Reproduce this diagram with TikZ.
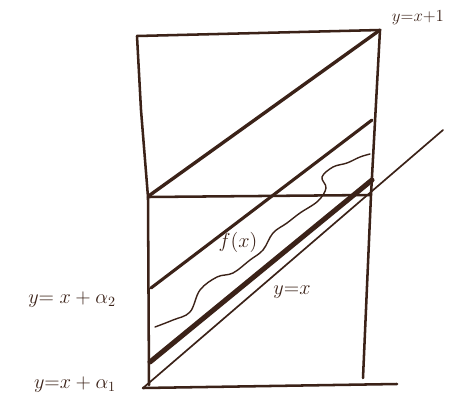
\documentclass[tikz,border=0pt]{standalone}
\usetikzlibrary{calc}
\definecolor{inkbrown}{HTML}{3B2218}
\begin{document}
\begin{tikzpicture}[x=0.025cm, y=-0.025cm, line cap=round, line join=round,
    ink/.style={draw=inkbrown, line width=1.8pt},
    thinink/.style={draw=inkbrown, line width=1.2pt},
    boldink/.style={draw=inkbrown, line width=3.6pt},
    label/.style={text=inkbrown, font=\Large}]
			\useasboundingbox (0,0) rectangle (462,410);
			
			% Corners of the box
			\coordinate (topL) at (137,36);
			\coordinate (topR) at (380,30);
			\coordinate (midL) at (148,197);
			\coordinate (midR) at (371,195);
			\coordinate (botL) at (143,388);
			\coordinate (botR) at (397,384);
			
			% Draw Box
			\draw[ink] (topL) -- (topR) -- (371,195) -- (363,378);
			\draw[ink] (topL) -- (141,110) -- (midL) -- (149,385);
			\draw[ink] (midL) -- (midR);
			\draw[ink] (botL) -- (botR);
			
			% Diagonal y = x+1
			\draw[ink, line width=2.4pt] (150,195) -- (topR);
			
			% Line y = x + alpha_2
			\draw[ink, line width=2.2pt] (151,288) -- (372,120);
			
			% Wavy curve f(x)
			\draw[thinink, line width=1pt] plot[smooth, tension=0.6] coordinates {(155,327) (173,320) (190,312) (200,290) (217,277) (233,273) (250,260) (263,250) (273,233) (287,223) (300,213) (318,201) (326,188) (322,177) (333,167) (347,163) (360,157) (370,154)};
			
			% Line y = x + alpha_1
			\draw[boldink] (150,362) -- (372,180);
			
			% Line y = x
			\draw[thinink] (botL) -- (443,130);
			
			% Labels
			\node[label, font=\large] (lblTop) at (418,18) {$y{=}x{+}1$};
			\node[label] (lblF) at (238,242) {$f(x)$};
			\node[label] (lblDiag) at (292,292) {$y{=}x$};
			\node[label] (lblAlphaTwo) at (72,300) {$y{=}\;x+\alpha_2$};
			\node[label] (lblAlphaOne) at (75,385) {$y{=}x+\alpha_1$};
		\end{tikzpicture}
\end{document}
